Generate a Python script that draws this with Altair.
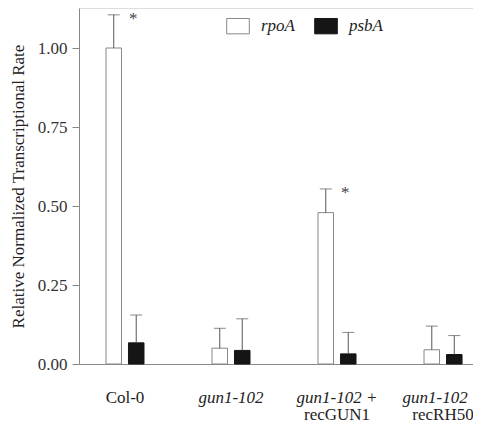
import altair as alt
import pandas as pd

groups = ["Col-0", "gun1-102", "gun1-102 + recGUN1", "gun1-102 + recRH50"]
second_lines = ["", "", "recGUN1", "recRH50"]
genes = ["rpoA", "psbA"]
rpoA = [1.00, 0.050, 0.479, 0.045]
rpoA_err = [0.105, 0.063, 0.075, 0.075]
psbA = [0.067, 0.043, 0.032, 0.030]
psbA_err = [0.088, 0.100, 0.068, 0.060]
star_groups = ["Col-0", "gun1-102 + recGUN1"]
y_ticks = [0, 0.125, 0.25, 0.375, 0.5, 0.625, 0.75, 0.875, 1.0]
y_max = 1.1266

rows = []
for g, v, e in zip(groups, rpoA, rpoA_err):
    rows.append({"group": g, "gene": "rpoA", "value": v, "upper": v + e})
for g, v, e in zip(groups, psbA, psbA_err):
    rows.append({"group": g, "gene": "psbA", "value": v, "upper": v + e})
df = pd.DataFrame(rows)

stars = pd.DataFrame({
    "group": star_groups,
    "gene": ["psbA"] * len(star_groups),
    "upper": [rpoA[groups.index(g)] + rpoA_err[groups.index(g)] for g in star_groups],
})
sub = pd.DataFrame({"group": groups, "line2": second_lines})

FONT = "Liberation Serif"
W, H = 394, 356

x_enc = alt.X(
    "group:N",
    sort=groups,
    scale=alt.Scale(domain=groups, paddingInner=0.6415, paddingOuter=0.179, align=0.711),
    axis=alt.Axis(
        title=None,
        labelAngle=0,
        ticks=False,
        tickSize=0,
        labelPadding=25,
        labelFont=FONT,
        labelFontSize=17,
        labelColor="#222",
        labelExpr="split(datum.label, ' rec')[0]",
        labelFontStyle={"condition": {"test": "datum.label == 'Col-0'", "value": "normal"}, "value": "italic"},
        domainColor="#888",
        labelOverlap=False,
    ),
)
xo = alt.XOffset("gene:N", sort=genes,
                 scale=alt.Scale(domain=genes, paddingInner=0.31, paddingOuter=0))

y_enc = alt.Y(
    "value:Q",
    scale=alt.Scale(domain=[0, y_max], nice=False),
    axis=alt.Axis(
        title="Relative Normalized Transcriptional Rate",
        titleFont=FONT,
        titleFontSize=17,
        titleFontWeight="normal",
        titleColor="#222",
        titlePadding=10,
        values=y_ticks + [y_max],
        labelExpr="datum.value > 1.1 ? '' : (datum.value % 0.25 == 0 ? format(datum.value, '.2f') : '')",
        labelFont=FONT,
        labelFontSize=17,
        labelColor="#333",
        labelPadding=5,
        tickColor="#888",
        tickSize={"condition": {"test": "datum.value % 0.25 == 0", "value": 7}, "value": 3.5},
        tickOpacity={"condition": {"test": "datum.value > 1.1", "value": 0}, "value": 1},
        grid=True,
        gridColor="#999",
        gridOpacity={"condition": {"test": "datum.value > 1.1", "value": 1}, "value": 0},
        domainColor="#888",
        labelOverlap=False,
    ),
)

legend = alt.Legend(
    orient="none", legendX=147, legendY=6, direction="horizontal", title=None,
    symbolType="M-1,-0.68H1V0.68H-1Z", symbolSize=511, symbolStrokeColor="#777",
    symbolStrokeWidth=1, labelFont=FONT, labelFontSize=17, labelFontStyle="italic",
    labelColor="#222", labelOffset=11, columnPadding=17, padding=0,
)

bars = alt.Chart(df).mark_bar(strokeWidth=1).encode(
    x=x_enc,
    xOffset=xo,
    y=y_enc,
    fill=alt.Fill("gene:N", sort=genes, scale=alt.Scale(domain=genes, range=["#ffffff", "#151515"]), legend=legend),
    stroke=alt.Stroke("gene:N", sort=genes, scale=alt.Scale(domain=genes, range=["#888888", "#151515"]), legend=None),
)

err = alt.Chart(df).mark_rule(color="#555", strokeWidth=1).encode(
    x=x_enc, xOffset=xo, y="value:Q", y2="upper:Q",
)
caps = alt.Chart(df).mark_tick(color="#555", thickness=1, size=12, orient="horizontal").encode(
    x=x_enc, xOffset=xo, y="upper:Q",
)
star_text = alt.Chart(stars).mark_text(text="*", font=FONT, fontSize=17, color="#444",
                                       baseline="middle", dx=-3, dy=4).encode(
    x=x_enc, xOffset=xo, y="upper:Q",
)
line2 = alt.Chart(sub).mark_text(font=FONT, fontSize=17, color="#222", baseline="alphabetic").encode(
    x=x_enc, y=alt.value(412), text="line2:N",
)

chart = alt.layer(bars, err, caps, star_text, line2).properties(
    width=W, height=H,
    autosize=alt.AutoSizeParams(type="none"),
    padding={"left": 71, "top": 0, "right": 0, "bottom": 58},
).configure_view(stroke=None).configure(font=FONT, background="white")

chart.save("out.html", embed_options={"renderer": "svg", "actions": False})
